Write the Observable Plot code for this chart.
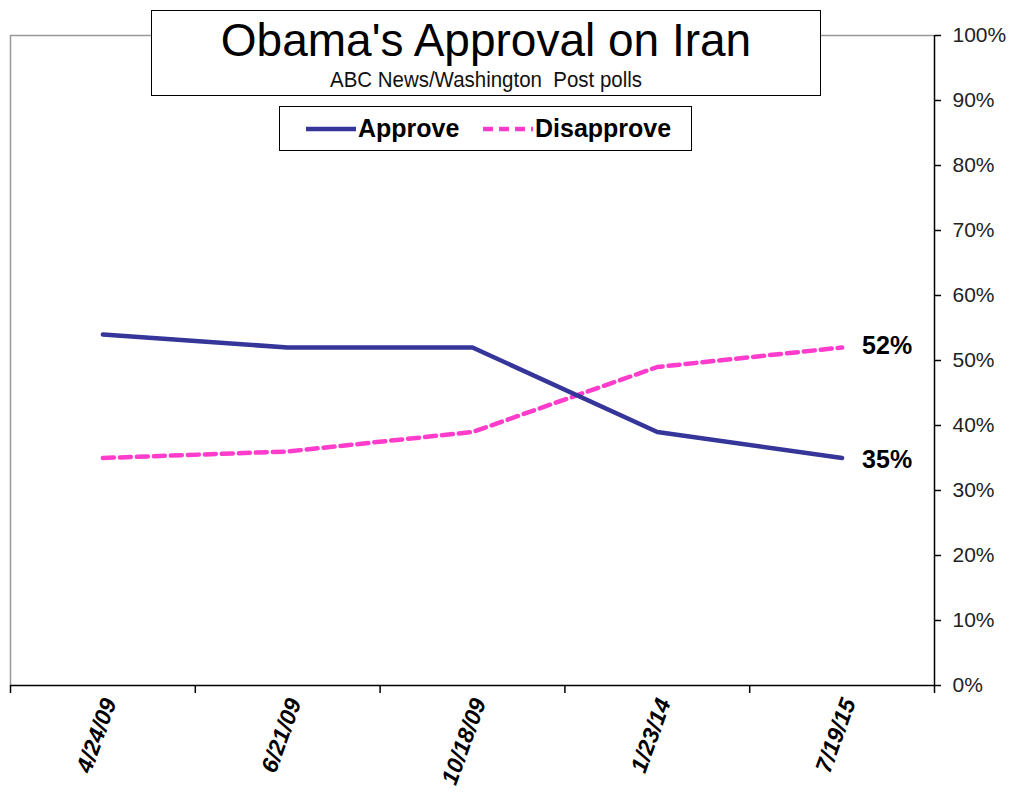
<!DOCTYPE html>
<html>
<head>
<meta charset="utf-8">
<script src="https://cdn.jsdelivr.net/npm/d3@7"></script>
<script src="https://cdn.jsdelivr.net/npm/@observablehq/plot@0.6"></script>
<style>
  html, body { margin: 0; padding: 0; background: #fff; }
  #wrap { position: relative; width: 1011px; height: 792px; font-family: "Liberation Sans", Arial, sans-serif; }
  #title {
    position: absolute; left: 151px; top: 10px; width: 668px; height: 84px;
    border: 1.5px solid #000; background: #fff; text-align: center;
  }
  #title .t { font-size: 46px; line-height: 46px; margin-top: 6px; color: #000; }
  #title .s { font-size: 22px; line-height: 22px; margin-top: 6px; color: #111; white-space: pre; transform: scaleX(0.93); }
  #legend {
    position: absolute; left: 279px; top: 106px; width: 411px; height: 43px;
    border: 1.5px solid #000; background: #fff;
    font-weight: bold; font-size: 25px;
  }
  #legend svg { display: block; }
  #legend .item { position: absolute; top: 0; height: 43px; display: flex; align-items: center; }
</style>
</head>
<body>
<div id="wrap">
  <div id="chart"></div>
  <div id="title">
    <div class="t">Obama's Approval on Iran</div>
    <div class="s">ABC News/Washington  Post polls</div>
  </div>
  <div id="legend"></div>
</div>
<script>
const dates = ["4/24/09", "6/21/09", "10/18/09", "1/23/14", "7/19/15"];
const approve = [54, 52, 52, 39, 35];
const disapprove = [35, 36, 39, 49, 52];
const yTicks = [0, 10, 20, 30, 40, 50, 60, 70, 80, 90, 100];
const seriesNames = ["Approve", "Disapprove"];
const seriesColors = ["#35359a", "#ff3ccc"];

const rows = dates.map((d, i) => ({ i, date: d, approve: approve[i], disapprove: disapprove[i] }));
const last = rows[rows.length - 1];
const bounds = d3.range(dates.length + 1);
const centers = dates.map((d, i) => i + 0.5);

const chart = Plot.plot({
  width: 1011,
  height: 792,
  marginLeft: 10,
  marginRight: 77,
  marginTop: 35,
  marginBottom: 107,
  style: { fontFamily: "'Liberation Sans', Arial, sans-serif", background: "#fff", color: "#000" },
  x: { type: "linear", domain: [0, dates.length] },
  y: { domain: [0, 100] },
  marks: [
    Plot.ruleY([100], { stroke: "#999", strokeWidth: 1.5 }),
    Plot.ruleX([0], { stroke: "#999", strokeWidth: 1.5 }),
    Plot.axisY({ anchor: "right", ticks: yTicks, tickFormat: d => d + "%", tickSize: 6, tickPadding: 12, fontSize: 21, fill: "#222", stroke: "#000", strokeWidth: 1.5, label: null }),
    Plot.axisX({ ticks: bounds, tickFormat: () => "", tickSize: 8, strokeWidth: 1.5, label: null }),
    Plot.axisX({ ticks: centers, tickFormat: v => dates[Math.floor(v)], tickSize: 0, tickPadding: 14, dx: 7, tickRotate: -70, fontSize: 23, fontWeight: "bold", fontStyle: "italic", label: null }),
    Plot.ruleY([0], { stroke: "#000", strokeWidth: 1.5 }),
    Plot.ruleX([dates.length], { stroke: "#000", strokeWidth: 1.5 }),
    Plot.line(rows, { x: d => d.i + 0.5, y: "disapprove", stroke: seriesColors[1], strokeWidth: 4.5, strokeDasharray: "11,6" }),
    Plot.line(rows, { x: d => d.i + 0.5, y: "approve", stroke: seriesColors[0], strokeWidth: 4.5 }),
    Plot.text([last], { x: d => d.i + 0.5, y: "approve", text: d => d.approve + "%", dx: 20, dy: 2, textAnchor: "start", fontSize: 25, fontWeight: "bold" }),
    Plot.text([last], { x: d => d.i + 0.5, y: "disapprove", text: d => d.disapprove + "%", dx: 20, dy: -2, textAnchor: "start", fontSize: 25, fontWeight: "bold" })
  ]
});
document.getElementById("chart").appendChild(chart);

// Legend
const legend = document.getElementById("legend");
const itemLeft = [25, 202];
seriesNames.forEach((name, k) => {
  const item = document.createElement("div");
  item.className = "item";
  item.style.left = itemLeft[k] + "px";
  const sw = d3.create("svg").attr("width", 52).attr("height", 20);
  sw.append("line").attr("x1", 1).attr("x2", 51).attr("y1", 10).attr("y2", 10)
    .attr("stroke", seriesColors[k]).attr("stroke-width", 4.5)
    .attr("stroke-dasharray", k === 1 ? "10,6" : null);
  item.appendChild(sw.node());
  const span = document.createElement("span");
  span.textContent = name;
  span.style.marginLeft = "1px";
  item.appendChild(span);
  legend.appendChild(item);
});
</script>
</body>
</html>
